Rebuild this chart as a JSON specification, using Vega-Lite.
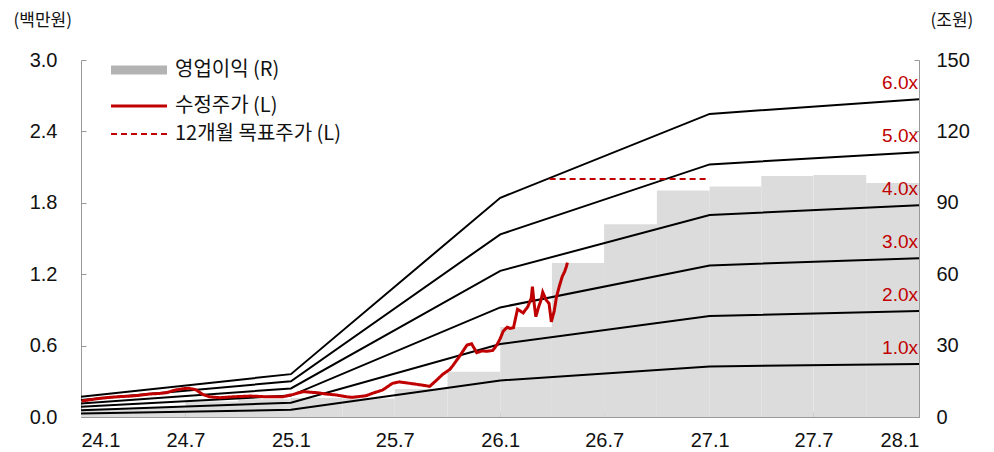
{
  "$schema": "https://vega.github.io/schema/vega-lite/v6.json",
  "width": 838,
  "height": 357,
  "autosize": {"type": "none"},
  "padding": {"left": 81, "top": 60, "right": 75, "bottom": 35},
  "background": "white",
  "config": {
    "view": {"stroke": null},
    "font": "Liberation Sans, Noto Sans CJK KR",
    "axis": {"grid": false, "domainColor": "#999999", "tickColor": "#999999", "labelColor": "#111111", "labelFontSize": 20, "titleFontSize": 17, "titleFontWeight": "normal", "titleColor": "#111111", "labelFont": "Liberation Sans, Noto Sans CJK KR", "titleFont": "Noto Sans CJK KR"},
    "legend": {
      "orient": "none", "legendX": 48, "legendY": 0, "title": null, "symbolType": "M-28,0H28", "symbolSize": 4,
      "labelFontSize": 20, "labelFont": "Noto Sans CJK KR", "labelColor": "#111111", "labelOffset": 26, "rowPadding": 8, "labelLimit": 400
    }
  },
  "datasets": {
    "op": [
      {"start": "2024/01/01", "end": "2024/04/01", "op": 3.5},
      {"start": "2024/04/01", "end": "2024/07/01", "op": 4},
      {"start": "2024/07/01", "end": "2024/10/01", "op": 6.5},
      {"start": "2024/10/01", "end": "2025/01/01", "op": 7.5},
      {"start": "2025/01/01", "end": "2025/04/01", "op": 8},
      {"start": "2025/04/01", "end": "2025/07/01", "op": 7.8},
      {"start": "2025/07/01", "end": "2025/10/01", "op": 11.8},
      {"start": "2025/10/01", "end": "2026/01/01", "op": 19},
      {"start": "2026/01/01", "end": "2026/04/01", "op": 37.8},
      {"start": "2026/04/01", "end": "2026/07/01", "op": 64.7},
      {"start": "2026/07/01", "end": "2026/10/01", "op": 81},
      {"start": "2026/10/01", "end": "2027/01/01", "op": 95.2},
      {"start": "2027/01/01", "end": "2027/04/01", "op": 96.8},
      {"start": "2027/04/01", "end": "2027/07/01", "op": 101.3},
      {"start": "2027/07/01", "end": "2027/10/01", "op": 101.7},
      {"start": "2027/10/01", "end": "2028/01/01", "op": 98.3}
    ],
    "bands": [
      {"date": "2024/01/01", "per": "1.0x", "value": 0.0285},
      {"date": "2025/01/01", "per": "1.0x", "value": 0.06},
      {"date": "2026/01/01", "per": "1.0x", "value": 0.307},
      {"date": "2027/01/01", "per": "1.0x", "value": 0.4245},
      {"date": "2028/01/01", "per": "1.0x", "value": 0.445},
      {"date": "2024/01/01", "per": "2.0x", "value": 0.057},
      {"date": "2025/01/01", "per": "2.0x", "value": 0.12},
      {"date": "2026/01/01", "per": "2.0x", "value": 0.614},
      {"date": "2027/01/01", "per": "2.0x", "value": 0.849},
      {"date": "2028/01/01", "per": "2.0x", "value": 0.89},
      {"date": "2024/01/01", "per": "3.0x", "value": 0.0855},
      {"date": "2025/01/01", "per": "3.0x", "value": 0.18},
      {"date": "2026/01/01", "per": "3.0x", "value": 0.921},
      {"date": "2027/01/01", "per": "3.0x", "value": 1.2735},
      {"date": "2028/01/01", "per": "3.0x", "value": 1.335},
      {"date": "2024/01/01", "per": "4.0x", "value": 0.114},
      {"date": "2025/01/01", "per": "4.0x", "value": 0.24},
      {"date": "2026/01/01", "per": "4.0x", "value": 1.228},
      {"date": "2027/01/01", "per": "4.0x", "value": 1.698},
      {"date": "2028/01/01", "per": "4.0x", "value": 1.78},
      {"date": "2024/01/01", "per": "5.0x", "value": 0.1425},
      {"date": "2025/01/01", "per": "5.0x", "value": 0.30},
      {"date": "2026/01/01", "per": "5.0x", "value": 1.535},
      {"date": "2027/01/01", "per": "5.0x", "value": 2.1225},
      {"date": "2028/01/01", "per": "5.0x", "value": 2.225},
      {"date": "2024/01/01", "per": "6.0x", "value": 0.171},
      {"date": "2025/01/01", "per": "6.0x", "value": 0.36},
      {"date": "2026/01/01", "per": "6.0x", "value": 1.842},
      {"date": "2027/01/01", "per": "6.0x", "value": 2.547},
      {"date": "2028/01/01", "per": "6.0x", "value": 2.67}
    ],
    "labels": [
      {"date": "2028/01/01", "value": 0.445, "label": "1.0x"},
      {"date": "2028/01/01", "value": 0.89, "label": "2.0x"},
      {"date": "2028/01/01", "value": 1.335, "label": "3.0x"},
      {"date": "2028/01/01", "value": 1.78, "label": "4.0x"},
      {"date": "2028/01/01", "value": 2.225, "label": "5.0x"},
      {"date": "2028/01/01", "value": 2.67, "label": "6.0x"}
    ],
    "price": [
      {"series": "수정주가 (L)", "date": "2024/01/02", "value": 0.134},
      {"series": "수정주가 (L)", "date": "2024/01/17", "value": 0.145},
      {"series": "수정주가 (L)", "date": "2024/02/03", "value": 0.157},
      {"series": "수정주가 (L)", "date": "2024/02/20", "value": 0.165},
      {"series": "수정주가 (L)", "date": "2024/03/08", "value": 0.171},
      {"series": "수정주가 (L)", "date": "2024/03/25", "value": 0.175},
      {"series": "수정주가 (L)", "date": "2024/04/12", "value": 0.182},
      {"series": "수정주가 (L)", "date": "2024/04/29", "value": 0.193},
      {"series": "수정주가 (L)", "date": "2024/05/17", "value": 0.198},
      {"series": "수정주가 (L)", "date": "2024/05/29", "value": 0.204},
      {"series": "수정주가 (L)", "date": "2024/06/12", "value": 0.225},
      {"series": "수정주가 (L)", "date": "2024/06/21", "value": 0.233},
      {"series": "수정주가 (L)", "date": "2024/07/01", "value": 0.24},
      {"series": "수정주가 (L)", "date": "2024/07/08", "value": 0.241},
      {"series": "수정주가 (L)", "date": "2024/07/20", "value": 0.227},
      {"series": "수정주가 (L)", "date": "2024/07/31", "value": 0.19},
      {"series": "수정주가 (L)", "date": "2024/08/12", "value": 0.17},
      {"series": "수정주가 (L)", "date": "2024/08/30", "value": 0.162},
      {"series": "수정주가 (L)", "date": "2024/09/22", "value": 0.17},
      {"series": "수정주가 (L)", "date": "2024/10/22", "value": 0.176},
      {"series": "수정주가 (L)", "date": "2024/11/20", "value": 0.17},
      {"series": "수정주가 (L)", "date": "2024/12/18", "value": 0.17},
      {"series": "수정주가 (L)", "date": "2025/01/05", "value": 0.19},
      {"series": "수정주가 (L)", "date": "2025/01/22", "value": 0.213},
      {"series": "수정주가 (L)", "date": "2025/02/16", "value": 0.204},
      {"series": "수정주가 (L)", "date": "2025/03/03", "value": 0.193},
      {"series": "수정주가 (L)", "date": "2025/03/21", "value": 0.185},
      {"series": "수정주가 (L)", "date": "2025/04/08", "value": 0.17},
      {"series": "수정주가 (L)", "date": "2025/04/18", "value": 0.165},
      {"series": "수정주가 (L)", "date": "2025/05/12", "value": 0.179},
      {"series": "수정주가 (L)", "date": "2025/05/23", "value": 0.199},
      {"series": "수정주가 (L)", "date": "2025/06/10", "value": 0.227},
      {"series": "수정주가 (L)", "date": "2025/06/27", "value": 0.283},
      {"series": "수정주가 (L)", "date": "2025/07/09", "value": 0.295},
      {"series": "수정주가 (L)", "date": "2025/07/27", "value": 0.283},
      {"series": "수정주가 (L)", "date": "2025/08/19", "value": 0.267},
      {"series": "수정주가 (L)", "date": "2025/08/31", "value": 0.258},
      {"series": "수정주가 (L)", "date": "2025/09/12", "value": 0.31},
      {"series": "수정주가 (L)", "date": "2025/09/23", "value": 0.36},
      {"series": "수정주가 (L)", "date": "2025/10/05", "value": 0.40},
      {"series": "수정주가 (L)", "date": "2025/10/10", "value": 0.43},
      {"series": "수정주가 (L)", "date": "2025/10/22", "value": 0.51},
      {"series": "수정주가 (L)", "date": "2025/11/04", "value": 0.605},
      {"series": "수정주가 (L)", "date": "2025/11/12", "value": 0.615},
      {"series": "수정주가 (L)", "date": "2025/11/21", "value": 0.54},
      {"series": "수정주가 (L)", "date": "2025/11/30", "value": 0.555},
      {"series": "수정주가 (L)", "date": "2025/12/09", "value": 0.552},
      {"series": "수정주가 (L)", "date": "2025/12/19", "value": 0.56},
      {"series": "수정주가 (L)", "date": "2025/12/26", "value": 0.605},
      {"series": "수정주가 (L)", "date": "2026/01/01", "value": 0.66},
      {"series": "수정주가 (L)", "date": "2026/01/06", "value": 0.72},
      {"series": "수정주가 (L)", "date": "2026/01/13", "value": 0.755},
      {"series": "수정주가 (L)", "date": "2026/01/18", "value": 0.745},
      {"series": "수정주가 (L)", "date": "2026/01/24", "value": 0.75},
      {"series": "수정주가 (L)", "date": "2026/01/31", "value": 0.905},
      {"series": "수정주가 (L)", "date": "2026/02/05", "value": 0.89},
      {"series": "수정주가 (L)", "date": "2026/02/10", "value": 0.875},
      {"series": "수정주가 (L)", "date": "2026/02/18", "value": 0.927},
      {"series": "수정주가 (L)", "date": "2026/02/24", "value": 1.0},
      {"series": "수정주가 (L)", "date": "2026/02/26", "value": 1.095},
      {"series": "수정주가 (L)", "date": "2026/03/01", "value": 0.955},
      {"series": "수정주가 (L)", "date": "2026/03/04", "value": 0.843},
      {"series": "수정주가 (L)", "date": "2026/03/09", "value": 0.927},
      {"series": "수정주가 (L)", "date": "2026/03/13", "value": 0.983},
      {"series": "수정주가 (L)", "date": "2026/03/16", "value": 1.05},
      {"series": "수정주가 (L)", "date": "2026/03/22", "value": 0.983},
      {"series": "수정주가 (L)", "date": "2026/03/27", "value": 0.955},
      {"series": "수정주가 (L)", "date": "2026/03/31", "value": 0.80},
      {"series": "수정주가 (L)", "date": "2026/04/05", "value": 0.89},
      {"series": "수정주가 (L)", "date": "2026/04/09", "value": 1.01},
      {"series": "수정주가 (L)", "date": "2026/04/14", "value": 1.10},
      {"series": "수정주가 (L)", "date": "2026/04/19", "value": 1.18},
      {"series": "수정주가 (L)", "date": "2026/04/23", "value": 1.22},
      {"series": "수정주가 (L)", "date": "2026/04/26", "value": 1.26},
      {"series": "수정주가 (L)", "date": "2026/04/28", "value": 1.297},
      {"series": "12개월 목표주가 (L)", "date": "2026/03/28", "value": 2.0},
      {"series": "12개월 목표주가 (L)", "date": "2027/01/01", "value": 2.0}
    ]
  },
  "layer": [
    {
      "data": {"name": "op"},
      "mark": {"type": "rect", "color": "#dcdcdc"},
      "encoding": {
        "x": {
          "field": "start", "type": "temporal",
          "scale": {"domain": [{"year": 2024, "month": 1, "date": 1}, {"year": 2028, "month": 1, "date": 1}]},
          "axis": {
            "title": null, "format": "%y.%-m", "labelPadding": 18, "tickSize": -5,
            "values": [
              {"year": 2024, "month": 1, "date": 1}, {"year": 2024, "month": 7, "date": 1},
              {"year": 2025, "month": 1, "date": 1}, {"year": 2025, "month": 7, "date": 1},
              {"year": 2026, "month": 1, "date": 1}, {"year": 2026, "month": 7, "date": 1},
              {"year": 2027, "month": 1, "date": 1}, {"year": 2027, "month": 7, "date": 1},
              {"year": 2028, "month": 1, "date": 1}
            ]
          }
        },
        "x2": {"field": "end"},
        "y": {
          "field": "op", "type": "quantitative",
          "scale": {"domain": [0, 150]},
          "axis": {
            "orient": "right", "values": [0, 30, 60, 90, 120, 150], "tickSize": -5, "labelPadding": 22,
            "title": "(조원)", "titleAngle": 0, "titleAlign": "left", "titleBaseline": "middle", "titleX": 11, "titleY": -40
          }
        },
        "y2": {"datum": 0}
      }
    },
    {
      "layer": [
        {
          "data": {"name": "bands"},
          "mark": {"type": "line", "color": "#000000", "strokeWidth": 2},
          "encoding": {
            "x": {"field": "date", "type": "temporal"},
            "y": {
              "field": "value", "type": "quantitative",
              "scale": {"domain": [0, 3]},
              "axis": {
                "orient": "left", "values": [0, 0.6, 1.2, 1.8, 2.4, 3.0], "format": ".1f", "tickSize": -5, "labelPadding": 29,
                "title": "(백만원)", "titleAngle": 0, "titleAlign": "left", "titleBaseline": "middle", "titleX": -68, "titleY": -40
              }
            },
            "detail": {"field": "per"}
          }
        },
        {
          "data": {"name": "price"},
          "mark": {"type": "line"},
          "encoding": {
            "x": {"field": "date", "type": "temporal"},
            "y": {"field": "value", "type": "quantitative"},
            "color": {
              "field": "series", "type": "ordinal",
              "scale": {"type": "ordinal", "domain": ["영업이익 (R)", "수정주가 (L)", "12개월 목표주가 (L)"], "range": ["#b3b3b3", "#c00000", "#c00000"]}
            },
            "strokeDash": {
              "field": "series", "type": "ordinal",
              "scale": {"type": "ordinal", "domain": ["영업이익 (R)", "수정주가 (L)", "12개월 목표주가 (L)"], "range": [[1, 0], [1, 0], [6, 4]]}
            },
            "strokeWidth": {
              "field": "series", "type": "ordinal",
              "scale": {"type": "ordinal", "domain": ["영업이익 (R)", "수정주가 (L)", "12개월 목표주가 (L)"], "range": [9, 3, 2]}
            }
          }
        },
        {
          "data": {"name": "labels"},
          "mark": {"type": "text", "align": "right", "baseline": "alphabetic", "dx": -1, "dy": -10, "fontSize": 19, "color": "#c00000"},
          "encoding": {
            "x": {"field": "date", "type": "temporal"},
            "y": {"field": "value", "type": "quantitative"},
            "text": {"field": "label"}
          }
        }
      ]
    }
  ],
  "resolve": {"scale": {"y": "independent"}}
}
